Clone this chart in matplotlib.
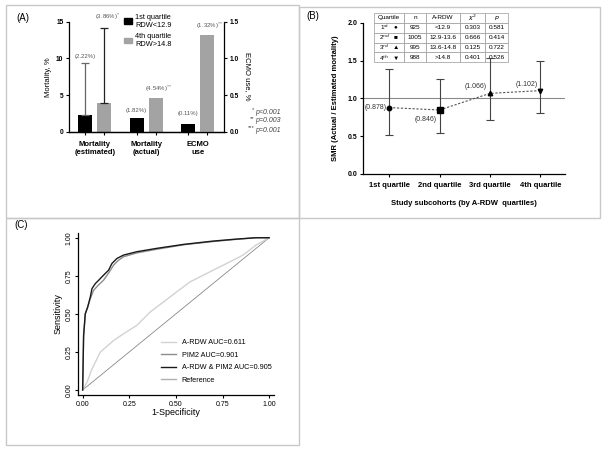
import matplotlib
matplotlib.use("Agg")
import numpy as np
import matplotlib.pyplot as plt
from matplotlib.patches import Rectangle, Patch

plt.rcParams["font.family"] = ["Liberation Sans", "DejaVu Sans"]
plt.rcParams["axes.linewidth"] = 0.9

W, H = 602, 453

# ---------------- panel A data ----------------
groups_a = ["Mortality\n(estimated)", "Mortality\n(actual)", "ECMO\nuse"]
q1_mort = [2.22, 1.82]          # %, left axis
q4_mort = [3.86, 4.54]
q1_est_err_top = 9.4            # upper whisker, estimated mortality
q4_est_err_top = 14.1
q1_ecmo = 0.11                  # %, right axis
q4_ecmo = 1.32
q1_lab = ["(2.22%)", "(1.82%)", "(0.11%)"]
q4_lab = [r"(3.86%)$^{*}$", r"(4.54%)$^{**}$", r"(1.32%)$^{***}$"]
pval_star = ["*", "**", "***"]
pval_txt = ["p<0.001", "p=0.003", "p=0.001"]

# ---------------- panel B data ----------------
quartiles = ["1st quartile", "2nd quartile", "3rd quartile", "4th quartile"]
smr = [0.878, 0.846, 1.066, 1.102]
smr_lo = [0.52, 0.54, 0.72, 0.80]
smr_hi = [1.39, 1.26, 1.53, 1.49]
smr_lab = ["(0.878)", "(0.846)", "(1.066)", "(1.102)"]
q_markers = ["o", "s", "^", "v"]
tbl_head = ["Quartile", "n", "A-RDW", r"$\chi^2$", r"$p$"]
tbl_rows = [
    [r"1$^{st}$   ●", "925", "<12.9", "0.303", "0.581"],
    [r"2$^{nd}$   ■", "1005", "12.9-13.6", "0.666", "0.414"],
    [r"3$^{rd}$   ▲", "995", "13.6-14.8", "0.125", "0.722"],
    [r"4$^{th}$   ▼", "988", ">14.8", "0.401", "0.526"],
]

# ---------------- panel C data ----------------
comb_fpr = [0, 0.005, 0.014, 0.027, 0.041, 0.05, 0.068, 0.086, 0.112, 0.139,
            0.157, 0.184, 0.219, 0.29, 0.397, 0.54, 0.70, 0.825, 0.93, 1.0]
comb_tpr = [0, 0.358, 0.50, 0.545, 0.611, 0.666, 0.699, 0.721, 0.754, 0.787,
            0.831, 0.864, 0.886, 0.908, 0.930, 0.956, 0.978, 0.991, 1.0, 1.0]
pim_fpr = [0, 0.005, 0.014, 0.027, 0.041, 0.059, 0.085, 0.112, 0.14, 0.166,
           0.19, 0.219, 0.29, 0.40, 0.55, 0.70, 0.83, 0.93, 1.0]
pim_tpr = [0, 0.35, 0.50, 0.545, 0.60, 0.655, 0.69, 0.721, 0.77, 0.82,
           0.85, 0.875, 0.90, 0.925, 0.955, 0.975, 0.99, 1.0, 1.0]
rdw_fpr = [0, 0.023, 0.05, 0.094, 0.166, 0.219, 0.29, 0.362, 0.433, 0.504,
           0.576, 0.647, 0.718, 0.79, 0.86, 0.93, 1.0]
rdw_tpr = [0, 0.05, 0.138, 0.248, 0.325, 0.369, 0.424, 0.512, 0.578, 0.644,
           0.71, 0.754, 0.798, 0.842, 0.886, 0.952, 1.0]
roc_labels = ["A-RDW AUC=0.611", "PIM2 AUC=0.901",
              "A-RDW & PIM2 AUC=0.905", "Reference"]


def fig_box(x0, y0, x1, y1):
    """pixel box (top-left origin) -> figure fraction rect"""
    return [x0 / W, 1 - y1 / H, (x1 - x0) / W, (y1 - y0) / H]


fig = plt.figure(figsize=(W / 100, H / 100), dpi=100)

# panel frames
for (x0, y0, x1, y1) in [(6, 5, 299, 218), (299, 7, 600, 218), (6, 218, 299, 445)]:
    fig.patches.append(Rectangle((x0 / W, 1 - y1 / H), (x1 - x0) / W, (y1 - y0) / H,
                                 transform=fig.transFigure, fill=False,
                                 ec="#c8c8c8", lw=1.0))

fig.text(16 / W, 1 - 18 / H, "(A)", fontsize=7, va="center")
fig.text(306 / W, 1 - 16 / H, "(B)", fontsize=7, va="center")
fig.text(14 / W, 1 - 225 / H, "(C)", fontsize=7, va="center")

###############################################################################
# (A) bars
###############################################################################
axA = fig.add_axes(fig_box(69, 21.7, 224, 131.7))
axA2 = axA.twinx()
xa = np.arange(3)
off, bw = 0.187, 0.27
black, grey = "#000000", "#a3a3a3"

axA.bar(xa[:2] - off, q1_mort, bw, color=black)
axA.bar(xa[:2] + off, q4_mort, bw, color=grey)
axA.errorbar([xa[0] - off], [q1_mort[0]], yerr=[[0], [q1_est_err_top - q1_mort[0]]],
             fmt="none", ecolor="#666666", elinewidth=0.9, capsize=3, capthick=0.9)
axA.errorbar([xa[0] + off], [q4_mort[0]], yerr=[[0], [q4_est_err_top - q4_mort[0]]],
             fmt="none", ecolor="#222222", elinewidth=0.9, capsize=3, capthick=0.9)
axA2.bar([xa[2] - off], [q1_ecmo], bw, color=black)
axA2.bar([xa[2] + off], [q4_ecmo], bw, color=grey)

axA.set_xlim(-0.5, 2.51)
axA.set_ylim(0, 15)
axA2.set_ylim(0, 1.5)
axA.set_yticks([0, 5, 10, 15])
axA2.set_yticks([0, 0.5, 1.0, 1.5])
axA2.set_yticklabels(["0.0", "0.5", "1.0", "1.5"])
axA.set_xticks(np.concatenate([xa - off, xa + off]))
axA.set_xticklabels([])
axA.set_xticks(xa, minor=True)
axA.set_xticklabels(groups_a, minor=True, fontsize=5.5, fontweight="bold")
axA.tick_params(axis="x", which="major", length=2, width=0.8)
axA.tick_params(axis="x", which="minor", length=0, pad=7)
axA.tick_params(axis="y", length=2.5, width=0.8, labelsize=4.8, pad=1.5)
axA2.tick_params(axis="y", length=2.5, width=0.8, labelsize=4.8, pad=1.5)
for lab in axA.get_yticklabels() + axA2.get_yticklabels():
    lab.set_fontweight("bold")
for a in (axA, axA2):
    a.spines["top"].set_visible(False)
axA2.spines["left"].set_visible(False)
axA.spines["right"].set_visible(False)
axA.set_ylabel("Mortality, %", fontsize=5.5, labelpad=3)
axA2.set_ylabel("ECMO use, %", fontsize=5.5, rotation=270, labelpad=9)

# value labels (left-axis units for mortality, right-axis for ECMO)
q1_lab_y = [9.9, 2.6]
q4_lab_y = [14.9, 5.1]
for i in range(2):
    axA.text(xa[i] - off, q1_lab_y[i], q1_lab[i], ha="center", va="bottom",
             fontsize=4.3, color="#555555")
    axA.text(xa[i] + off + 0.06, q4_lab_y[i], q4_lab[i], ha="center", va="bottom",
             fontsize=4.3, color="#555555")
axA2.text(xa[2] - off, 0.21, q1_lab[2], ha="center", va="bottom",
          fontsize=4.3, color="#555555")
axA2.text(xa[2] + off + 0.08, 1.37, q4_lab[2], ha="center", va="bottom",
          fontsize=4.3, color="#555555")

for k in range(3):
    y = 1 - (112 + 9 * k) / H
    fig.text(254.5 / W, y + 2 / H, pval_star[k], fontsize=4.2, color="#444444",
             ha="right", va="center")
    fig.text(255 / W, y, pval_txt[k], fontsize=5, style="italic",
             color="#444444", ha="left", va="center")

fig.legend(handles=[Patch(color=black), Patch(color=grey)],
           labels=["1st quartile\nRDW<12.9", "4th quartile\nRDW>14.8"],
           loc="upper left", bbox_to_anchor=(120 / W, 1 - 10 / H),
           frameon=False, fontsize=5.3, handlelength=1.1, handleheight=0.8,
           handletextpad=0.5, labelspacing=0.6, borderpad=0)

###############################################################################
# (B) SMR by quartile
###############################################################################
axB = fig.add_axes(fig_box(363, 22.7, 565, 174))
xb = np.arange(4)
axB.axhline(1.0, color="#8a8a8a", lw=0.8, zorder=1)
axB.plot(xb, smr, ls=(0, (2, 1.5)), color="#555555", lw=0.8, zorder=2)
for i in range(4):
    axB.errorbar([xb[i]], [smr[i]], yerr=[[smr[i] - smr_lo[i]], [smr_hi[i] - smr[i]]],
                 fmt=q_markers[i], color="black", ecolor="#444444", ms=3.2 if i != 1 else 3.8,
                 elinewidth=0.8, capsize=3, capthick=0.8, zorder=3)
lab_xy = [(-0.26, 0.88), (0.73, 0.717), (1.71, 1.16), (2.73, 1.177)]
for (lx, ly), t in zip(lab_xy, smr_lab):
    axB.text(lx, ly, t, ha="center", va="center", fontsize=5, color="#333333")

axB.set_xlim(-0.52, 3.49)
axB.set_ylim(0, 2.0)
axB.set_yticks([0, 0.5, 1.0, 1.5, 2.0])
axB.set_yticklabels(["0.0", "0.5", "1.0", "1.5", "2.0"])
axB.set_xticks(xb)
axB.set_xticklabels(quartiles)
axB.tick_params(axis="y", length=2.5, width=0.8, labelsize=5, pad=1.5)
axB.tick_params(axis="x", length=2.5, width=0.8, labelsize=5.5, pad=3)
for lab in axB.get_xticklabels() + axB.get_yticklabels():
    lab.set_fontweight("bold")
for s in ("top", "right"):
    axB.spines[s].set_visible(False)
axB.set_ylabel("SMR (Actual / Estimated mortality)", fontsize=5.5,
               fontweight="bold", labelpad=6)
axB.set_xlabel("Study subcohorts (by A-RDW  quartiles)", fontsize=5.5,
               fontweight="bold", labelpad=8)

col_w = np.array([30, 22, 34, 25, 23], dtype=float)
tbl = axB.table(cellText=tbl_rows, colLabels=tbl_head, cellLoc="center",
                colWidths=list(col_w / col_w.sum() * 0.664),
                bbox=[0.054, 0.739, 0.664, 0.325])
tbl.auto_set_font_size(False)
tbl.set_fontsize(4.6)
for cell in tbl.get_celld().values():
    cell.set_edgecolor("#9a9a9a")
    cell.set_linewidth(0.5)
    cell.PAD = 0.02

###############################################################################
# (C) ROC curves
###############################################################################
axC = fig.add_axes(fig_box(78, 233, 274, 395))
axC.plot([0, 1], [0, 1], color="#888888", lw=0.6, label=roc_labels[3])
axC.plot(rdw_fpr, rdw_tpr, color="#d2d2d2", lw=1.0, label=roc_labels[0])
axC.plot(pim_fpr, pim_tpr, color="#8c8c8c", lw=1.0, label=roc_labels[1])
axC.plot(comb_fpr, comb_tpr, color="#1a1a1a", lw=1.0, label=roc_labels[2])
axC.set_xlim(-0.025, 1.026)
axC.set_ylim(-0.033, 1.031)
ticks = [0, 0.25, 0.5, 0.75, 1.0]
axC.set_xticks(ticks)
axC.set_yticks(ticks)
axC.set_xticklabels([f"{t:.2f}" for t in ticks])
axC.set_yticklabels([f"{t:.2f}" for t in ticks], rotation=90, va="center")
axC.tick_params(length=2.5, width=0.8, labelsize=5, pad=1.5)
for s in ("top", "right"):
    axC.spines[s].set_visible(False)
axC.set_xlabel("1-Specificity", fontsize=6.5, labelpad=0)
axC.set_ylabel("Sensitivity", fontsize=6.5, labelpad=2)

handles, labels = axC.get_legend_handles_labels()
order = [labels.index(l) for l in roc_labels]
leg = axC.legend([handles[i] for i in order], [labels[i] for i in order],
                 loc="lower right", bbox_to_anchor=(1.02, 0.03), frameon=False,
                 fontsize=5.2, handlelength=2.0, handletextpad=0.8,
                 labelspacing=0.75)
leg.get_lines()[3].set_color("#b0b0b0")
leg.get_lines()[3].set_linewidth(1.0)

fig.savefig("out.png", dpi=100)
